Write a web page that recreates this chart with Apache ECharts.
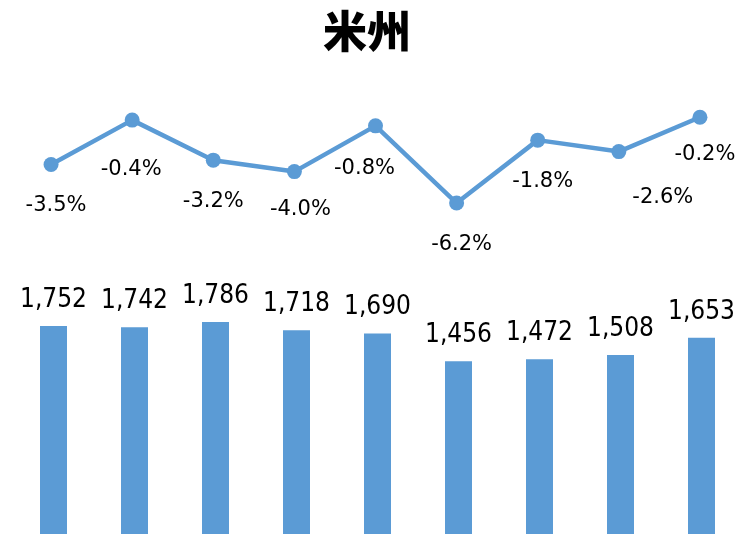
<!DOCTYPE html>
<html>
<head>
<meta charset="utf-8">
<script src="https://cdn.jsdelivr.net/npm/echarts@6/dist/echarts.min.js"></script>
<style>
html,body{margin:0;padding:0;background:#fff;}
#c{width:753px;height:534px;}
</style>
</head>
<body>
<div id="c"></div>
<script>
const title = '米州';
const categories = ['1', '2', '3', '4', '5', '6', '7', '8', '9'];
const sales = [1752, 1742, 1786, 1718, 1690, 1456, 1472, 1508, 1653];
const growth = [-3.5, -0.4, -3.2, -4.0, -0.8, -6.2, -1.8, -2.6, -0.2];

const blue = '#5B9BD5';
const chart = echarts.init(document.getElementById('c'));

// label nudges to mimic the manually placed labels of the original
const nudges = { 1: [-1, 8], 2: [0, 0], 3: [6, -3], 4: [-11, 2], 7: [44, 5], 8: [5, -4] };
const lineData = growth.map((v, i) => {
  const item = { value: v };
  if (nudges[i]) item.label = { offset: nudges[i] };
  return item;
});

chart.setOption({
  animation: false,
  backgroundColor: '#fff',
  title: {
    text: title,
    left: 362,
    textAlign: 'center',
    top: 4,
    textStyle: { fontFamily: 'Noto Sans CJK JP', fontSize: 44, fontWeight: 900, color: '#000' }
  },
  grid: [
    { left: 10.5, right: 12.5, top: 114.4, height: 143 },
    { left: 13, right: 11, top: 0, bottom: 0 }
  ],
  xAxis: [
    { type: 'category', gridIndex: 0, data: categories, show: false },
    { type: 'category', gridIndex: 1, data: categories, show: false }
  ],
  yAxis: [
    { type: 'value', gridIndex: 0, min: -10, max: 0, show: false },
    { type: 'value', gridIndex: 1, min: 0, max: 4500, show: false }
  ],
  series: [
    {
      type: 'bar',
      xAxisIndex: 1,
      yAxisIndex: 1,
      data: sales,
      barWidth: 27,
      itemStyle: { color: blue },
      label: {
        show: true,
        position: 'top',
        distance: 13,
        fontFamily: 'DejaVu Sans Condensed',
        fontSize: 26,
        color: '#000',
        formatter: p => p.value.toLocaleString('en-US')
      }
    },
    {
      type: 'line',
      xAxisIndex: 0,
      yAxisIndex: 0,
      data: lineData,
      symbol: 'circle',
      symbolSize: 15,
      lineStyle: { color: blue, width: 4.5 },
      itemStyle: { color: blue },
      label: {
        show: true,
        position: 'bottom',
        distance: 23,
        offset: [5, 0],
        fontFamily: 'DejaVu Sans',
        fontSize: 21,
        color: '#000',
        formatter: p => p.value.toFixed(1) + '%'
      }
    }
  ]
});
</script>
</body>
</html>
